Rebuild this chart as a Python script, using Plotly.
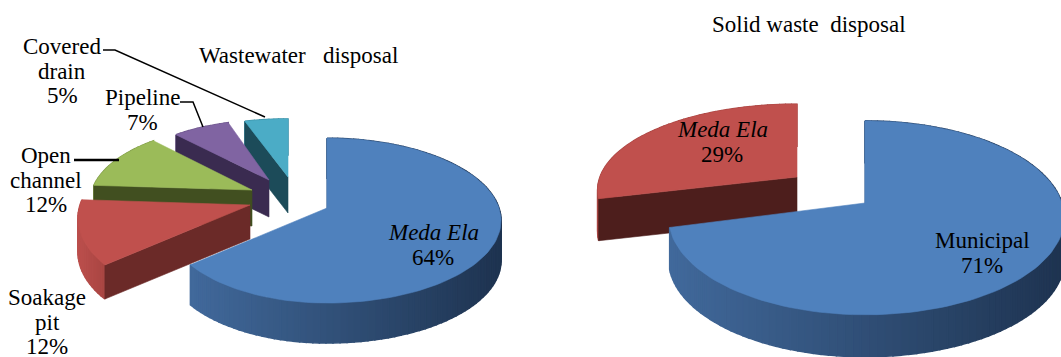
import math
import plotly.graph_objects as go

# ---- data ----
waste_categories = ["Meda Ela", "Soakage<br>pit", "Open<br>channel", "Pipeline", "Covered<br>drain"]
waste_values = [64, 12, 12, 7, 5]
solid_categories = ["Municipal", "Meda Ela"]
solid_values = [71, 29]
waste_title = "Wastewater   disposal"
solid_title = "Solid waste  disposal"

# ---- styles and layout ----
FONT = "Liberation Serif"
FONT_SIZE = 23
LINE_GAP = 24.5
FACE = {"blue": "#4f81bd", "red": "#c0504d", "green": "#9bbb59", "purple": "#8064a2", "teal": "#4bacc6"}
K = 0.153  # perspective strength of the tilted pie

waste_geom = [
    dict(col="blue", ax=327, ay=208, rx=172, rxl=160, ry=80.5, depth=40, cut="#2f5585",
         side=("#41699b", "#1e3350")),
    dict(col="red", ax=250, ay=205, rx=170, ry=85, depth=34, cut="#6b2a28",
         side=("#bb4f4c", "#a84542")),
    dict(col="green", ax=252, ay=190, rx=160, ry=75, depth=36, cut="#414f20",
         side=("#7f9a48", "#7f9a48")),
    dict(col="purple", ax=269, ay=180, rx=151, ry=69, depth=37, cut="#3a2b50",
         side=("#6b5488", "#6b5488")),
    dict(col="teal", ax=288, ay=177, rx=160, ry=67, depth=36, cut="#1c4b59",
         side=("#3a8ba1", "#3a8ba1")),
]
solid_geom = [
    dict(col="blue", ax=865, ay=203, rx=197, rxl=194, ry=94.7, depth=42, cut="#2f5585",
         side=("#41699b", "#1e3350")),
    dict(col="red", ax=797, ay=177, rx=197, ry=84, depth=42, cut="#4d1e1c",
         side=("#a84542", "#a84542")),
]
# drawing order: back slices first
waste_order = [4, 3, 2, 1, 0]
solid_order = [1, 0]

waste_labels = [dict(x=433, y=245, i=True), dict(x=47, y=322), dict(x=46, y=180),
                dict(x=142, y=110), dict(x=62, y=71)]
solid_labels = [dict(x=982, y=253), dict(x=722, y=142, i=True)]
leaders = [
    dict(x=[103, 115, 265], y=[50, 50, 117], w=1.5),
    dict(x=[180, 193, 203], y=[102, 102, 127], w=1.5),
    dict(x=[74, 119], y=[160, 160], w=2.5),
]


def rim(g, deg):
    t = math.radians(deg)
    u, v = math.sin(t), math.cos(t)
    d = 1 + K * v
    rx = g["rx"] if u >= 0 else g.get("rxl", g["rx"])
    return g["ax"] + rx * u / d, g["ay"] - g["ry"] * v / d


def mix(a, b, f):
    ca = [int(a[i:i + 2], 16) for i in (1, 3, 5)]
    cb = [int(b[i:i + 2], 16) for i in (1, 3, 5)]
    return "#%02x%02x%02x" % tuple(round(p + (q - p) * f) for p, q in zip(ca, cb))


fig = go.Figure()


def poly(xs, ys, color, name, lw=0.6):
    fig.add_trace(go.Scatter(x=xs + xs[:1], y=ys + ys[:1], mode="lines", fill="toself",
                             fillcolor=color, line=dict(color=color, width=lw),
                             hoverinfo="skip", showlegend=False, name=name))


def draw_pie(values, categories, geoms, order):
    total = sum(values)
    starts, c = [], 0
    for v in values:
        starts.append(c / total * 360)
        c += v
    for i in order:
        g = geoms[i]
        a0 = starts[i]
        a1 = a0 + values[i] / total * 360
        name = categories[i].replace("<br>", " ")
        n = max(6, int((a1 - a0) / 2))
        angs = [a0 + (a1 - a0) * j / n for j in range(n + 1)]
        pts = [rim(g, a) for a in angs]
        xmin = min(p[0] for p in pts)
        xmax = max(p[0] for p in pts)
        d = g["depth"]
        # outer wall, shaded across its width
        for j in range(n):
            (x0, y0), (x1, y1) = pts[j], pts[j + 1]
            f = ((x0 + x1) / 2 - xmin) / max(xmax - xmin, 1)
            poly([x0, x1, x1, x0], [y0, y1, y1 + d, y0 + d],
                 mix(g["side"][0], g["side"][1], f), name + " wall", lw=1.5)
        # cut wall along the starting edge
        x0, y0 = pts[0]
        poly([g["ax"], x0, x0, g["ax"]], [g["ay"], y0, y0 + d, g["ay"] + d], g["cut"], name + " cut")
        # top face
        poly([g["ax"]] + [p[0] for p in pts], [g["ay"]] + [p[1] for p in pts], FACE[g["col"]], name)


draw_pie(waste_values, waste_categories, waste_geom, waste_order)
draw_pie(solid_values, solid_categories, solid_geom, solid_order)

for l in leaders:
    fig.add_trace(go.Scatter(x=l["x"], y=l["y"], mode="lines", hoverinfo="skip", showlegend=False,
                             line=dict(color="#000000", width=l["w"])))


def note(text, x, y):
    fig.add_annotation(x=x, y=y, text=text, showarrow=False, xref="x", yref="y", align="center",
                       font=dict(family=FONT, size=FONT_SIZE, color="#000000"))


for cats, vals, labs in ((waste_categories, waste_values, waste_labels),
                         (solid_categories, solid_values, solid_labels)):
    for c, v, l in zip(cats, vals, labs):
        head = f"<i>{c}</i>" if l.get("i") else c
        lines = c.split("<br>") if not l.get("i") else [head]
        lines = lines + [f"{v}%"]
        top = l["y"] - LINE_GAP * (len(lines) - 1) / 2
        for k, t in enumerate(lines):
            note(t, l["x"], top + k * LINE_GAP)
note(waste_title, 298, 55)
note(solid_title, 809, 24)

fig.update_layout(
    width=1061, height=357, margin=dict(l=0, r=0, t=0, b=0),
    paper_bgcolor="#ffffff", plot_bgcolor="#ffffff", showlegend=False,
    xaxis=dict(range=[0, 1061], visible=False, fixedrange=True),
    yaxis=dict(range=[357, 0], visible=False, fixedrange=True),
)
fig.write_html("out.html", config={"displayModeBar": False},
               post_script="document.body.style.margin='0';document.body.style.overflow='hidden';")
